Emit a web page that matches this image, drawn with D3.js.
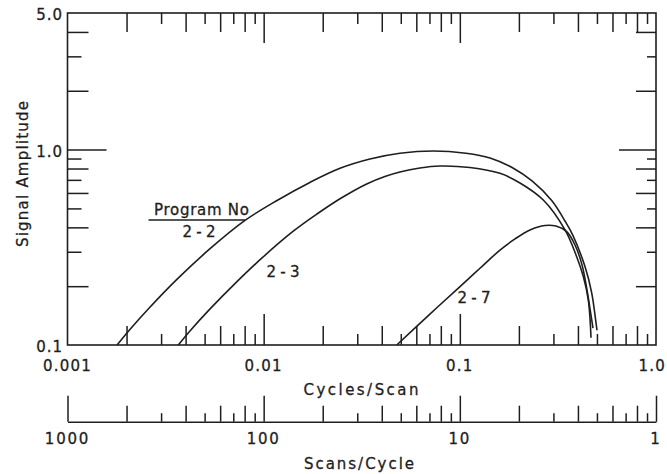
<!DOCTYPE html>
<html>
<head>
<meta charset="utf-8">
<script src="https://cdn.jsdelivr.net/npm/d3@7"></script>
<style>
  html, body { margin: 0; padding: 0; background: #fff; }
  svg { display: block; }
  text { font-family: "DejaVu Sans", sans-serif; fill: #1e1e1e; stroke: #1e1e1e; stroke-width: 0.3px; }
</style>
</head>
<body>
<svg id="chart" width="667" height="474"></svg>
<script>
// Response curves: signal amplitude vs. cycles per scan, one per program
const programs = ["2-2", "2-3", "2-7"];

const freq22 = [0.00179, 0.00208, 0.00263, 0.00360, 0.00533, 0.00803, 0.0117, 0.0172, 0.0245, 0.0348, 0.0495, 0.0730, 0.1075, 0.1425, 0.1866, 0.2333, 0.2940, 0.3437, 0.3775, 0.4345, 0.4701, 0.4944, 0.5003];
const amp22  = [0.100, 0.120, 0.156, 0.216, 0.311, 0.434, 0.549, 0.679, 0.802, 0.895, 0.958, 0.984, 0.958, 0.906, 0.805, 0.691, 0.549, 0.431, 0.363, 0.252, 0.185, 0.130, 0.119];

const freq23 = [0.00367, 0.00421, 0.00533, 0.00731, 0.00981, 0.0141, 0.0187, 0.0245, 0.0335, 0.0415, 0.0495, 0.0626, 0.0792, 0.1126, 0.1602, 0.2026, 0.2664, 0.3438, 0.3941, 0.4261, 0.4517, 0.4663];
const amp23  = [0.100, 0.118, 0.153, 0.211, 0.279, 0.381, 0.468, 0.560, 0.667, 0.728, 0.768, 0.805, 0.824, 0.810, 0.756, 0.675, 0.552, 0.388, 0.283, 0.224, 0.170, 0.109];

const freq27 = [0.0477, 0.0704, 0.1002, 0.1267, 0.1602, 0.1911, 0.2279, 0.2716, 0.3092, 0.3506, 0.3865, 0.4196, 0.4449, 0.4663, 0.4773];
const amp27  = [0.100, 0.144, 0.199, 0.247, 0.306, 0.349, 0.388, 0.409, 0.406, 0.380, 0.325, 0.257, 0.191, 0.142, 0.122];

// Axis labels
const xLabelValues = [0.001, 0.01, 0.1, 1];
const xLabelText   = ["0.001", "0.01", "0.1", "1.0"];
const yLabelValues = [0.1, 1, 5];
const yLabelText   = ["0.1", "1.0", "5.0"];
const scanLabelValues = [1000, 100, 10, 1];
const scanLabelText   = ["1000", "100", "10", "1"];

const series = [
  { name: programs[0], freq: freq22, amp: amp22 },
  { name: programs[1], freq: freq23, amp: amp23 },
  { name: programs[2], freq: freq27, amp: amp27 }
];

const ink = "#1e1e1e";
const W = 667;
const svg = d3.select("#chart");

const x = d3.scaleLog().domain([0.001, 1]).range([67.5, 656]);
const y = d3.scaleLog().domain([0.1, 5]).range([345, 13]);
const s = d3.scaleLog().domain([1000, 1]).range([67.5, 656]);

const plotTop = y.range()[1], plotBottom = y.range()[0];
const plotLeft = x.range()[0], plotRight = x.range()[1];

// leading digit of a log tick value
function mantissa(v) {
  const p = Math.floor(Math.log10(v) + 1e-9);
  return Math.round(v / Math.pow(10, p));
}
function tickLength(v, sizes) {
  const m = mantissa(v);
  if (m === 1) return sizes.decade;
  return m % 2 === 0 ? sizes.even : sizes.odd;
}
const near = (a, b) => Math.abs(Math.log10(a) - Math.log10(b)) < 1e-6;

const xTicks = x.ticks().filter(v => !near(v, 0.001) && !near(v, 1));
const yTicks = y.ticks().filter(v => !near(v, 0.1) && !near(v, 5));
const scanTicks = x.ticks().map(v => 1 / v);

// plot frame
svg.append("rect")
  .attr("x", plotLeft).attr("y", plotTop)
  .attr("width", plotRight - plotLeft).attr("height", plotBottom - plotTop)
  .attr("fill", "none").attr("stroke", ink).attr("stroke-width", 1.6);

function styleTicks(g, attr, sign, sizes) {
  g.select(".domain").remove();
  g.selectAll(".tick line")
    .attr(attr, d => sign * tickLength(d, sizes))
    .attr("stroke", ink).attr("stroke-width", 1.5);
}

// bottom edge ticks (pointing up)
svg.append("g").attr("transform", `translate(0,${plotBottom})`)
  .call(d3.axisBottom(x).tickValues(xTicks).tickFormat(""))
  .call(g => styleTicks(g, "y2", -1, { decade: 31, even: 19, odd: 11 }));

// top edge ticks (pointing down)
svg.append("g").attr("transform", `translate(0,${plotTop})`)
  .call(d3.axisTop(x).tickValues(xTicks).tickFormat(""))
  .call(g => styleTicks(g, "y2", 1, { decade: 30, even: 19, odd: 11 }));

// left edge ticks (pointing right)
svg.append("g").attr("transform", `translate(${plotLeft},0)`)
  .call(d3.axisLeft(y).tickValues(yTicks).tickFormat(""))
  .call(g => styleTicks(g, "x2", 1, { decade: 39, even: 21, odd: 14 }));

// right edge ticks (pointing left)
svg.append("g").attr("transform", `translate(${plotRight},0)`)
  .call(d3.axisRight(y).tickValues(yTicks).tickFormat(""))
  .call(g => styleTicks(g, "x2", -1, { decade: 37, even: 20, odd: 9 }));

// secondary scale: scans per cycle
const scanAxisY = 421.7;
svg.append("g").attr("transform", `translate(0,${scanAxisY})`)
  .call(d3.axisBottom(s).tickValues(scanTicks).tickFormat("").tickSizeOuter(0))
  .call(g => {
    g.select(".domain").attr("stroke", ink).attr("stroke-width", 1.6);
    g.selectAll(".tick line")
      .attr("y2", d => -tickLength(1 / d, { decade: 26, even: 16, odd: 8.5 }))
      .attr("stroke", ink).attr("stroke-width", 1.5);
  });

// keep a centred label inside the page
function clampInside(sel) {
  sel.each(function () {
    const t = d3.select(this);
    const half = this.getComputedTextLength() / 2;
    const cx = +t.attr("x");
    t.attr("x", Math.max(half + 1, Math.min(W - half - 1, cx)));
  });
}

// tick labels
svg.append("g").selectAll("text")
  .data(xLabelValues).join("text")
  .attr("x", d => x(d)).attr("y", 371)
  .attr("text-anchor", "middle").attr("font-size", 15)
  .attr("letter-spacing", 1.2)
  .text((d, i) => xLabelText[i])
  .call(clampInside);

svg.append("g").selectAll("text")
  .data(yLabelValues).join("text")
  .attr("x", 63).attr("y", d => y(d) + 7)
  .attr("text-anchor", "end").attr("font-size", 15)
  .attr("letter-spacing", 1)
  .text((d, i) => yLabelText[i]);

svg.append("g").selectAll("text")
  .data(scanLabelValues).join("text")
  .attr("x", d => s(d)).attr("y", 444)
  .attr("text-anchor", "middle").attr("font-size", 15)
  .attr("letter-spacing", 1.8)
  .text((d, i) => scanLabelText[i])
  .call(clampInside);

// axis titles
svg.append("text")
  .attr("x", 361).attr("y", 395)
  .attr("text-anchor", "middle").attr("font-size", 15)
  .attr("textLength", 115).attr("lengthAdjust", "spacing")
  .text("Cycles/Scan");

svg.append("text")
  .attr("x", 359).attr("y", 469)
  .attr("text-anchor", "middle").attr("font-size", 15)
  .attr("textLength", 110).attr("lengthAdjust", "spacing")
  .text("Scans/Cycle");

svg.append("text")
  .attr("transform", "translate(28,174) rotate(-90)")
  .attr("text-anchor", "middle").attr("font-size", 15)
  .attr("textLength", 146).attr("lengthAdjust", "spacing")
  .text("Signal Amplitude");

// curves
const line = d3.line()
  .x(d => x(d[0]))
  .y(d => y(d[1]))
  .curve(d3.curveCatmullRom.alpha(0.5));

svg.append("g").selectAll("path")
  .data(series).join("path")
  .attr("d", d => line(d.freq.map((f, i) => [f, d.amp[i]])))
  .attr("fill", "none").attr("stroke", ink).attr("stroke-width", 1.6)
  .attr("stroke-linejoin", "round");

// curve annotations
svg.append("text")
  .attr("x", 201.5).attr("y", 214.5)
  .attr("text-anchor", "middle").attr("font-size", 15)
  .attr("textLength", 95).attr("lengthAdjust", "spacing")
  .text("Program No");
svg.append("line")
  .attr("x1", 148.5).attr("x2", 245).attr("y1", 220).attr("y2", 220)
  .attr("stroke", ink).attr("stroke-width", 1.5);

const labelAt = { "2-2": [199, 237], "2-3": [283, 276.5], "2-7": [474, 303] };
svg.append("g").selectAll("text")
  .data(series).join("text")
  .attr("x", d => labelAt[d.name][0]).attr("y", d => labelAt[d.name][1])
  .attr("text-anchor", "middle").attr("font-size", 15)
  .attr("textLength", 33).attr("lengthAdjust", "spacing")
  .text(d => d.name);
</script>
</body>
</html>
